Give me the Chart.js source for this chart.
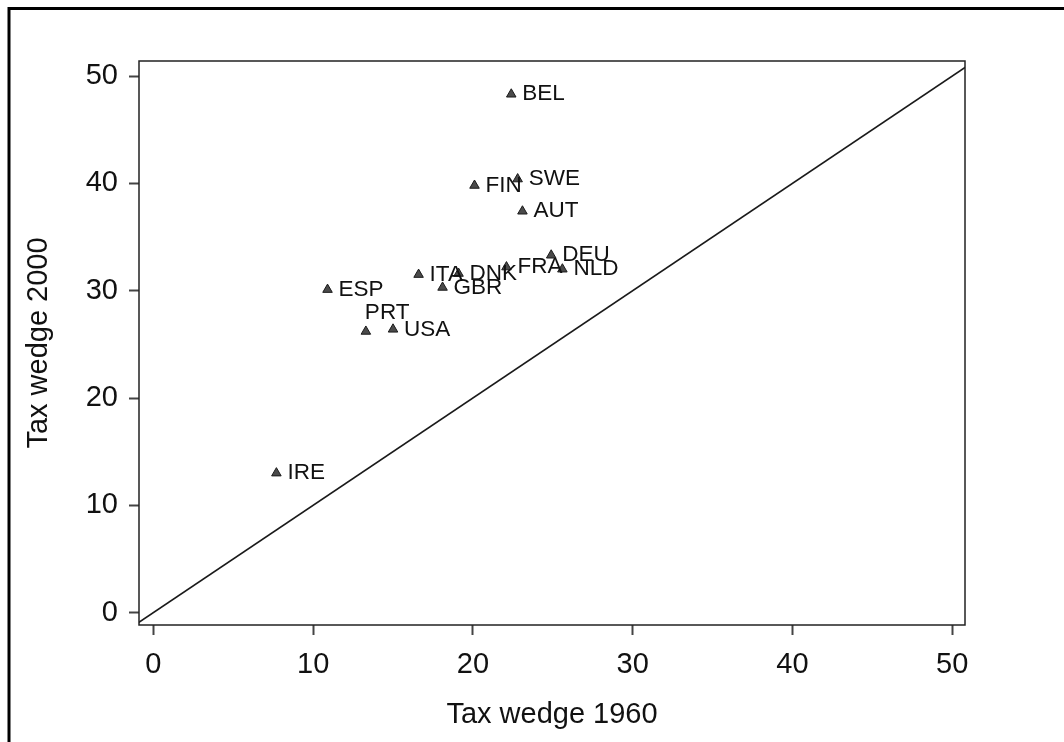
<!DOCTYPE html>
<html>
<head>
<meta charset="utf-8">
<script src="https://cdn.jsdelivr.net/npm/chart.js@4/dist/chart.umd.min.js"></script>
<style>
  html, body { margin: 0; padding: 0; background: #fff; }
  #wrap { width: 1064px; height: 742px; }
</style>
</head>
<body>
<div id="wrap"><canvas id="c" width="1064" height="742"></canvas></div>
<script>
// Country codes and tax wedges (percent) in 1960 and 2000
const countries = ['BEL', 'FIN', 'SWE', 'AUT', 'ITA', 'DNK', 'GBR', 'FRA', 'DEU', 'NLD', 'ESP', 'PRT', 'USA', 'IRE'];
const wedge1960 = [22.4, 20.1, 22.8, 23.1, 16.6, 19.1, 18.1, 22.1, 24.9, 25.6, 10.9, 13.3, 15.0, 7.7];
const wedge2000 = [48.3, 39.8, 40.4, 37.4, 31.5, 31.6, 30.3, 32.2, 33.3, 32.0, 30.1, 26.2, 26.4, 13.0];

// Axis tick values
const xTicks = [0, 10, 20, 30, 40, 50];
const yTicks = [0, 10, 20, 30, 40, 50];

// 45-degree reference line end points (y = x)
const diagEnds = [-2, 53];

const FONT = "'Liberation Sans', Arial, Helvetica, sans-serif";

// Label placement: most labels sit to the right of the marker, PRT sits above it
const labelAbove = { PRT: true };

const points = countries.map((c, i) => ({ x: wedge1960[i], y: wedge2000[i], name: c }));

const pointLabels = {
  id: 'pointLabels',
  afterDatasetsDraw(chart) {
    const ctx = chart.ctx;
    const meta = chart.getDatasetMeta(1);
    ctx.save();
    ctx.font = '22.5px ' + FONT;
    ctx.fillStyle = '#111';
    ctx.textAlign = 'left';
    ctx.textBaseline = 'middle';
    meta.data.forEach((el, i) => {
      const name = countries[i];
      if (labelAbove[name]) {
        ctx.fillText(name, el.x - 1, el.y - 19);
      } else {
        ctx.fillText(name, el.x + 11, el.y);
      }
    });
    ctx.restore();
  }
};

const frames = {
  id: 'frames',
  afterDraw(chart) {
    const ctx = chart.ctx;
    const a = chart.chartArea;
    ctx.save();
    // plot box
    ctx.strokeStyle = '#222';
    ctx.lineWidth = 1.5;
    ctx.strokeRect(a.left, a.top, a.right - a.left, a.bottom - a.top);
    // outer page frame
    ctx.strokeStyle = '#000';
    ctx.lineWidth = 3;
    ctx.beginPath();
    ctx.moveTo(9, chart.height + 2);
    ctx.lineTo(9, 8.5);
    ctx.lineTo(chart.width + 2, 8.5);
    ctx.stroke();
    ctx.restore();
  }
};

new Chart(document.getElementById('c'), {
  data: {
    datasets: [
      {
        type: 'line',
        data: diagEnds.map(v => ({ x: v, y: v })),
        borderColor: '#1a1a1a',
        borderWidth: 1.7,
        pointRadius: 0,
        fill: false,
        clip: 0
      },
      {
        type: 'scatter',
        data: points,
        pointStyle: 'triangle',
        pointRadius: 5.5,
        backgroundColor: '#4a4a4a',
        borderColor: '#1a1a1a',
        borderWidth: 1
      }
    ]
  },
  options: {
    responsive: false,
    animation: false,
    devicePixelRatio: 1,
    layout: { padding: { left: 0, top: 61, right: 99, bottom: 0 } },
    plugins: { legend: { display: false }, tooltip: { enabled: false } },
    scales: {
      x: {
        type: 'linear',
        position: 'bottom',
        min: -0.9,
        max: 50.8,
        afterBuildTicks(s) { s.ticks = xTicks.map(v => ({ value: v })); },
        afterFit(s) { s.height = 117; },
        border: { display: false },
        grid: { drawOnChartArea: false, drawTicks: true, tickLength: 10, tickColor: '#444', tickWidth: 2 },
        ticks: { color: '#111', font: { family: FONT, size: 29 }, padding: 13, maxRotation: 0 },
        title: { display: true, text: 'Tax wedge 1960', color: '#111', font: { family: FONT, size: 29 }, padding: { top: 0, bottom: 10 } }
      },
      y: {
        type: 'linear',
        position: 'left',
        min: -1.15,
        max: 51.4,
        afterBuildTicks(s) { s.ticks = yTicks.map(v => ({ value: v })); },
        afterFit(s) { s.width = 139; },
        border: { display: false },
        grid: { drawOnChartArea: false, drawTicks: true, tickLength: 10, tickColor: '#444', tickWidth: 2 },
        ticks: { color: '#111', font: { family: FONT, size: 29 }, padding: 11 },
        title: { display: true, text: 'Tax wedge 2000', color: '#111', font: { family: FONT, size: 29 }, padding: { top: 22, bottom: 0 } }
      }
    }
  },
  plugins: [pointLabels, frames]
});
</script>
</body>
</html>
